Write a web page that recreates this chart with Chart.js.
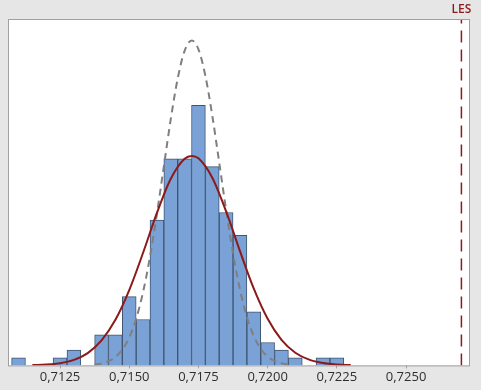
<!DOCTYPE html>
<html lang="es">
<head>
    <meta charset="UTF-8">
    <title>Histograma de capacidad</title>
    <script src="https://cdn.jsdelivr.net/npm/chart.js"></script>
    <style>
        html, body {
            margin: 0;
            padding: 0;
            background-color: #e6e6e6;
        }

        #wrap {
            width: 481px;
            height: 390px;
        }
    </style>
</head>
<body>
    <div id="wrap">
        <canvas id="capChart" width="481" height="390"></canvas>
    </div>

    <script>
        // histogram bins (centre of each bin) and counts
        const binCenters = [0.7110, 0.7115, 0.7120, 0.7125, 0.7130, 0.7135, 0.7140, 0.7145, 0.7150, 0.7155,
                            0.7160, 0.7165, 0.7170, 0.7175, 0.7180, 0.7185, 0.7190, 0.7195, 0.7200, 0.7205,
                            0.7210, 0.7215, 0.7220, 0.7225];
        const binCounts = [1, 0, 0, 1, 2, 0, 4, 4, 9, 6,
                           19, 27, 27, 34, 26, 20, 17, 7, 3, 2,
                           1, 0, 1, 1];

        // overall fit (solid red)
        const overallX = [0.7115, 0.7120, 0.7125, 0.7130, 0.7135, 0.7140, 0.7145, 0.7150, 0.7155, 0.7160,
                          0.7165, 0.7170, 0.71726, 0.7175, 0.7180, 0.7185, 0.7190, 0.7195, 0.7200, 0.7205,
                          0.7210, 0.7215, 0.7220, 0.7225, 0.7230];
        const overallY = [0.04, 0.11, 0.29, 0.72, 1.61, 3.27, 5.96, 9.85, 14.73, 19.94,
                          24.41, 27.03, 27.4, 27.09, 24.55, 20.14, 14.94, 10.03, 6.09, 3.34,
                          1.66, 0.75, 0.30, 0.11, 0.04];

        // within fit (grey dashed)
        const withinX = [0.71375, 0.71400, 0.71425, 0.71450, 0.71475, 0.71500, 0.71525, 0.71550, 0.71575, 0.71600,
                         0.71625, 0.71650, 0.71675, 0.71700, 0.71726, 0.71750, 0.71775, 0.71800, 0.71825, 0.71850,
                         0.71875, 0.71900, 0.71925, 0.71950, 0.71975, 0.72000, 0.72025, 0.72050, 0.72075];
        const withinY = [0.11, 0.26, 0.55, 1.09, 2.06, 3.65, 6.10, 9.60, 14.22, 19.82,
                         26.03, 32.20, 37.51, 41.14, 42.5, 41.34, 37.87, 32.67, 26.54, 20.30,
                         14.62, 9.92, 6.34, 3.81, 2.16, 1.15, 0.58, 0.27, 0.12];

        const tickValues = [0.7125, 0.7150, 0.7175, 0.7200, 0.7225, 0.7250];
        const specLabel = 'LES';
        const specLimit = 0.7270;

        const xMin = 0.71062;
        const xMax = 0.72731;
        const yMax = 45.3;

        // grey page, white plot area, thin frame, spec label above the plot
        const plotFrame = {
            id: 'plotFrame',
            beforeDraw(chart) {
                const { ctx, chartArea: a } = chart;
                ctx.save();
                ctx.fillStyle = '#e6e6e6';
                ctx.fillRect(0, 0, chart.width, chart.height);
                ctx.fillStyle = '#ffffff';
                ctx.fillRect(a.left, a.top, a.right - a.left, a.bottom - a.top);
                ctx.restore();
            },
            afterDraw(chart) {
                const { ctx, chartArea: a } = chart;
                ctx.save();
                ctx.strokeStyle = '#a0a0a0';
                ctx.lineWidth = 1;
                ctx.strokeRect(a.left + 0.5, a.top + 0.5, a.right - a.left - 1, a.bottom - a.top);

                const lx = chart.scales.x.getPixelForValue(specLimit);
                ctx.fillStyle = '#8b1a1a';
                ctx.font = '600 12px "Open Sans"';
                ctx.textAlign = 'center';
                ctx.textBaseline = 'middle';
                ctx.fillText(specLabel, lx, a.top - 9);
                ctx.restore();
            }
        };

        const ctx = document.getElementById('capChart').getContext('2d');
        new Chart(ctx, {
            type: 'bar',
            data: {
                datasets: [
                    {
                        type: 'line',
                        data: withinX.map((x, i) => ({ x: x, y: withinY[i] })),
                        borderColor: '#7f7f7f',
                        borderWidth: 2,
                        borderDash: [7, 5],
                        pointRadius: 0,
                        cubicInterpolationMode: 'monotone',
                        order: 1
                    },
                    {
                        type: 'line',
                        data: overallX.map((x, i) => ({ x: x, y: overallY[i] })),
                        borderColor: '#8b1a1a',
                        borderWidth: 2,
                        pointRadius: 0,
                        cubicInterpolationMode: 'monotone',
                        order: 0
                    },
                    {
                        type: 'line',
                        data: [{ x: specLimit, y: 0 }, { x: specLimit, y: yMax }],
                        borderColor: '#8b1a1a',
                        borderWidth: 1.5,
                        borderDash: [12, 7],
                        pointRadius: 0,
                        order: 0
                    },
                    {
                        data: binCenters.map((x, i) => ({ x: x, y: binCounts[i] || null })),
                        backgroundColor: '#7ba2d6',
                        borderColor: '#3f5570',
                        borderWidth: 1,
                        barPercentage: 1,
                        categoryPercentage: 1,
                        order: 2
                    }
                ]
            },
            options: {
                responsive: false,
                animation: false,
                layout: { padding: { left: 8, right: 11, top: 19, bottom: 4 } },
                plugins: {
                    legend: { display: false },
                    tooltip: { enabled: false }
                },
                scales: {
                    x: {
                        type: 'linear',
                        offset: false,
                        min: xMin,
                        max: xMax,
                        afterBuildTicks: axis => { axis.ticks = tickValues.map(v => ({ value: v })); },
                        grid: { display: true, drawOnChartArea: false, offset: false, tickLength: 3, color: '#a0a0a0' },
                        border: { display: false },
                        ticks: {
                            autoSkip: false,
                            maxRotation: 0,
                            padding: 1,
                            color: '#2e2e2e',
                            font: { family: 'Open Sans', size: 13 },
                            callback: v => v.toFixed(4).replace('.', ',')
                        }
                    },
                    y: {
                        display: false,
                        min: 0,
                        max: yMax
                    }
                }
            },
            plugins: [plotFrame]
        });
    </script>
</body>
</html>
